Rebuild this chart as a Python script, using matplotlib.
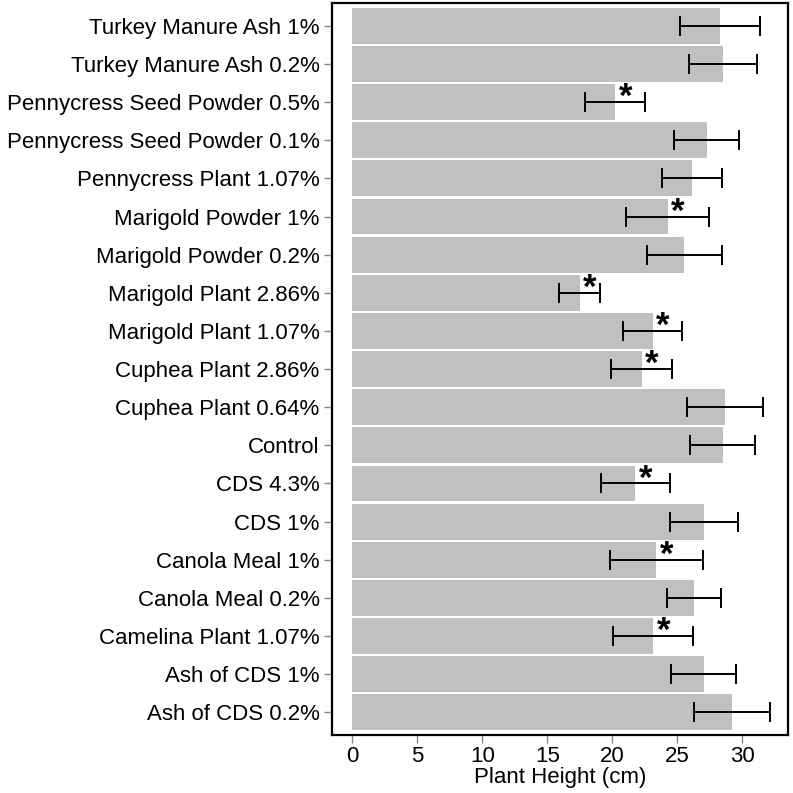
import matplotlib
matplotlib.use("Agg")
import matplotlib.pyplot as plt
import numpy as np

plt.rcParams['font.family'] = ['Liberation Sans', 'DejaVu Sans']

categories = [
    "Turkey Manure Ash 1%", "Turkey Manure Ash 0.2%", "Pennycress Seed Powder 0.5%",
    "Pennycress Seed Powder 0.1%", "Pennycress Plant 1.07%", "Marigold Powder 1%",
    "Marigold Powder 0.2%", "Marigold Plant 2.86%", "Marigold Plant 1.07%",
    "Cuphea Plant 2.86%", "Cuphea Plant 0.64%", "Control", "CDS 4.3%", "CDS 1%",
    "Canola Meal 1%", "Canola Meal 0.2%", "Camelina Plant 1.07%", "Ash of CDS 1%",
    "Ash of CDS 0.2%",
]
heights = [28.26, 28.5, 20.2, 27.25, 26.13, 24.24, 25.52, 17.48, 23.1, 22.24,
           28.65, 28.5, 21.75, 27.03, 23.37, 26.26, 23.14, 27.03, 29.2]
errors = [3.1, 2.65, 2.3, 2.52, 2.33, 3.2, 2.88, 1.55, 2.25, 2.37,
          2.95, 2.5, 2.64, 2.64, 3.59, 2.06, 3.07, 2.5, 2.92]
significant = [False, False, True, False, False, True, False, True, True, True,
               False, False, True, False, True, False, True, False, False]
xticks = [0, 5, 10, 15, 20, 25, 30]

fig = plt.figure(figsize=(7.93, 7.93), dpi=100)
ax = fig.add_axes([0.4187, 0.073, 0.575, 0.9232])

y = np.arange(len(categories))
ax.barh(y, heights, height=0.94, color='#c0c0c0', edgecolor='none')
ax.errorbar(heights, y, xerr=errors, fmt='none', ecolor='black',
            elinewidth=1.4, capsize=7.5, capthick=1.4)
for yi, h, s in zip(y, heights, significant):
    if s:
        ax.text(h + 0.8, yi - 0.12, '*', ha='center', va='center',
                fontsize=25, fontweight='bold', color='black')

ax.set_ylim(len(categories) - 0.4, -0.6)
ax.set_xlim(-1.56, 33.5)
ax.set_yticks(y)
ax.set_yticklabels(categories)
ax.set_xticks(xticks)
ax.set_xticklabels([str(t) for t in xticks])
ax.set_xlabel('Plant Height (cm)', fontsize=16, labelpad=0)
ax.tick_params(axis='both', labelsize=16, color='#888888', length=6, width=1, pad=3)
ax.tick_params(axis='x', pad=2)
for sp in ax.spines.values():
    sp.set_linewidth(1.6)
    sp.set_color('black')

fig.savefig('out.png', dpi=100)
